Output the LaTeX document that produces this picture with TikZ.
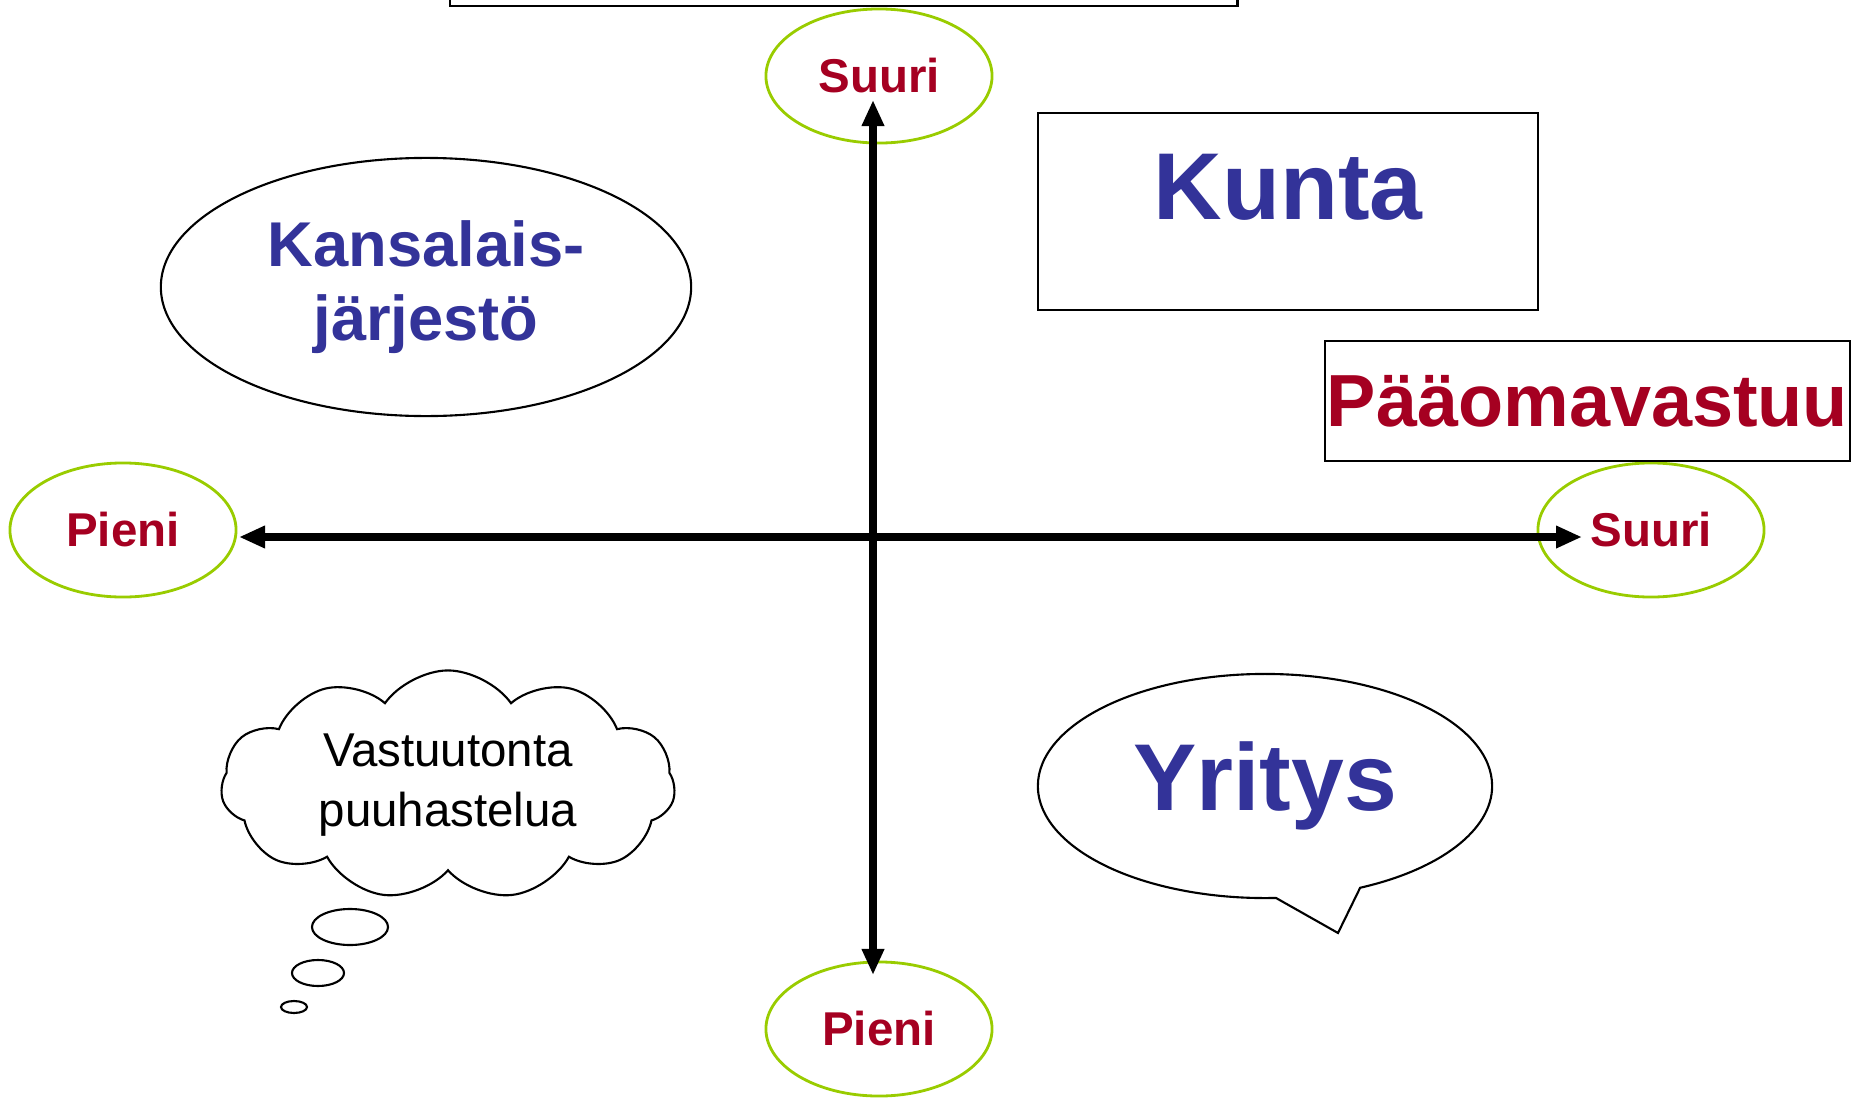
\documentclass[tikz,border=0pt]{standalone}
\usepackage{fontspec}
\setmainfont{Liberation Sans}
\usepackage{tikz}
\usetikzlibrary{arrows.meta, shapes.geometric, shapes.symbols, shapes.callouts}

\definecolor{sininen}{RGB}{51,51,153}
\definecolor{punainen}{RGB}{165,0,33}
\definecolor{vihrea}{RGB}{153,204,0}

\begin{document}
\begin{tikzpicture}[x=0.01cm,y=-0.01cm,>={Triangle[length=0.26cm,width=0.21cm]},
                    semithick]
\tikzstyle{pallo}=[ellipse,draw=vihrea,line width=0.8pt,inner sep=0pt,minimum width=2.26cm,minimum height=1.34cm,text=punainen]
\tikzstyle{laatikko}=[rectangle,draw=black,inner sep=0pt]
\tikzstyle{akseli}=[<->,line width=2.1pt]
\tikzset{font=\fontsize{13.5pt}{16pt}\selectfont}

        \useasboundingbox (0,0) rectangle (1854,1103);
        \clip (0,0) rectangle (1854,1103);

        \node[laatikko,minimum width=7.87cm,minimum height=1.2cm,anchor=south west]      (ylalaatikko) at (449,7) {};

        \node[pallo,font=\fontsize{13.5pt}{16pt}\selectfont\bfseries]      (s1) at (879,76)   {Suuri};
        \node[pallo,font=\fontsize{13.5pt}{16pt}\selectfont\bfseries]      (s2) at (1651,530) {Suuri};
        \node[pallo,font=\fontsize{13.5pt}{16pt}\selectfont\bfseries]      (p1) at (123,530)  {Pieni};
        \node[pallo,font=\fontsize{13.5pt}{16pt}\selectfont\bfseries]      (p2) at (879,1029) {Pieni};

        \node[laatikko,minimum width=5cm,minimum height=1.97cm,text=sininen,text height=0.71cm,text depth=0.56cm,
              font=\fontsize{27pt}{32pt}\selectfont\bfseries]      (kunta) at (1288,211.5) {Kunta};
        \node[laatikko,minimum width=5.25cm,minimum height=1.2cm,text=punainen,
              font=\fontsize{21pt}{25pt}\selectfont\bfseries]      (paaoma) at (1587.5,401) {Pääomavastuu};

        \node[ellipse,draw,inner sep=0pt,minimum width=5.3cm,minimum height=2.58cm,align=center,text=sininen,
              font=\fontsize{18pt}{21pt}\selectfont\bfseries]      (kansa) at (426,287) {Kansalais-\\järjestö};

        \node[cloud,draw,cloud puffs=11,cloud puff arc=110,aspect=2,inner sep=0pt,minimum width=4.54cm,minimum height=2.27cm,
              align=center,font=\fontsize{13.5pt}{17pt}\selectfont]      (pilvi) at (448,785) {Vastuutonta\\puuhastelua};
        \node[ellipse,draw,inner sep=0pt,minimum width=0.76cm,minimum height=0.36cm]      (k1) at (350,927)  {};
        \node[ellipse,draw,inner sep=0pt,minimum width=0.52cm,minimum height=0.26cm]      (k2) at (318,973)  {};
        \node[ellipse,draw,inner sep=0pt,minimum width=0.26cm,minimum height=0.12cm]      (k3) at (294,1007) {};

        \node[ellipse callout,draw,inner sep=0pt,minimum width=4.54cm,minimum height=2.24cm,
              callout absolute pointer={(1338,933)},callout pointer arc=22,text=sininen,
              font=\fontsize{27pt}{32pt}\selectfont\bfseries]      (yritys) at (1265,786) {Yritys};

        \coordinate (vasen) at (239,537);
        \coordinate (oikea) at (1582,537);
        \coordinate (yla)   at (873,100);
        \coordinate (ala)   at (873,975);

        \draw[akseli] (vasen) -- (oikea);
        \draw[akseli] (yla) -- (ala);

\end{tikzpicture}
\end{document}
